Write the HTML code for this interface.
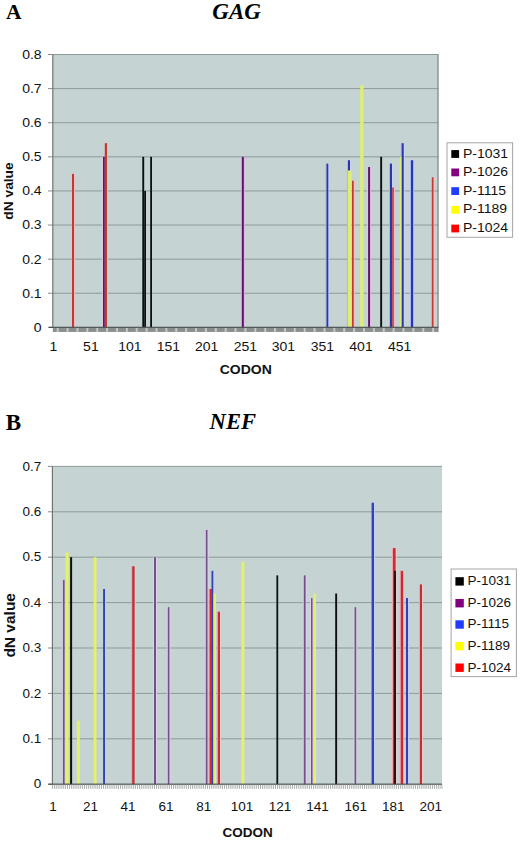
<!DOCTYPE html><html><head><meta charset="utf-8"><title>dN values GAG NEF</title>
<style>html,body{margin:0;padding:0;background:#fff;}svg{display:block;}text{font-family:"Liberation Sans",sans-serif;}.ser{font-family:"Liberation Serif",serif;font-weight:bold;}</style></head><body>
<svg width="520" height="841" viewBox="0 0 520 841">
<rect x="0" y="0" width="520" height="841" fill="#fff"/>
<text class="ser" x="6" y="19.2" font-size="21.5">A</text>
<text class="ser" x="212.3" y="19.4" font-size="23" font-style="italic">GAG</text>
<text class="ser" x="5.8" y="429.6" font-size="23">B</text>
<text class="ser" x="209.6" y="429.3" font-size="22.6" font-style="italic">NEF</text>
<rect x="52.8" y="54.5" width="385.80" height="272.85" fill="#c6d3d3"/>
<rect x="52.8" y="292.74" width="385.80" height="1" fill="#8e9a9a"/>
<rect x="52.8" y="258.64" width="385.80" height="1" fill="#8e9a9a"/>
<rect x="52.8" y="224.53" width="385.80" height="1" fill="#8e9a9a"/>
<rect x="52.8" y="190.43" width="385.80" height="1" fill="#8e9a9a"/>
<rect x="52.8" y="156.32" width="385.80" height="1" fill="#8e9a9a"/>
<rect x="52.8" y="122.21" width="385.80" height="1" fill="#8e9a9a"/>
<rect x="52.8" y="88.11" width="385.80" height="1" fill="#8e9a9a"/>
<rect x="52.8" y="54.00" width="385.80" height="1" fill="#8e9a9a"/>
<rect x="48" y="326.85" width="4.80" height="1" fill="#8a8a8a"/>
<rect x="48" y="292.74" width="4.80" height="1" fill="#8a8a8a"/>
<rect x="48" y="258.64" width="4.80" height="1" fill="#8a8a8a"/>
<rect x="48" y="224.53" width="4.80" height="1" fill="#8a8a8a"/>
<rect x="48" y="190.43" width="4.80" height="1" fill="#8a8a8a"/>
<rect x="48" y="156.32" width="4.80" height="1" fill="#8a8a8a"/>
<rect x="48" y="122.21" width="4.80" height="1" fill="#8a8a8a"/>
<rect x="48" y="88.11" width="4.80" height="1" fill="#8a8a8a"/>
<rect x="48" y="54.00" width="4.80" height="1" fill="#8a8a8a"/>
<rect x="74.00" y="173.87" width="1" height="153.48" fill="#eebcc0"/>
<rect x="102.00" y="156.82" width="1" height="170.53" fill="#d8cce4"/>
<rect x="104.80" y="156.82" width="1" height="170.53" fill="#e2b4e2"/>
<rect x="107.00" y="143.18" width="1" height="184.17" fill="#eebcc0"/>
<rect x="240.80" y="156.82" width="1" height="170.53" fill="#d8cce4"/>
<rect x="243.80" y="156.82" width="1" height="170.53" fill="#e2b4e2"/>
<rect x="325.50" y="163.64" width="1" height="163.71" fill="#aab4fa"/>
<rect x="328.30" y="163.64" width="1" height="163.71" fill="#c8d2f6"/>
<rect x="347.00" y="160.23" width="1" height="167.12" fill="#aab4fa"/>
<rect x="350.00" y="160.23" width="1" height="167.12" fill="#c8d2f6"/>
<rect x="353.70" y="180.69" width="1" height="146.66" fill="#eebcc0"/>
<rect x="367.10" y="167.05" width="1" height="160.30" fill="#d8cce4"/>
<rect x="370.00" y="167.05" width="1" height="160.30" fill="#e2b4e2"/>
<rect x="389.00" y="163.64" width="1" height="163.71" fill="#aab4fa"/>
<rect x="392.00" y="163.64" width="1" height="163.71" fill="#c8d2f6"/>
<rect x="393.80" y="187.51" width="1" height="139.84" fill="#eebcc0"/>
<rect x="400.70" y="143.18" width="1" height="184.17" fill="#aab4fa"/>
<rect x="403.70" y="143.18" width="1" height="184.17" fill="#c8d2f6"/>
<rect x="410.00" y="160.23" width="1" height="167.12" fill="#aab4fa"/>
<rect x="413.20" y="160.23" width="1" height="167.12" fill="#c8d2f6"/>
<rect x="433.50" y="177.28" width="1" height="150.07" fill="#eebcc0"/>
<rect x="72.0" y="173.87" width="2.00" height="153.48" fill="#c43a32"/>
<rect x="103.0" y="156.82" width="1.80" height="170.53" fill="#5e1466"/>
<rect x="104.8" y="143.18" width="2.20" height="184.17" fill="#c43a32"/>
<rect x="142.3" y="156.82" width="1.90" height="170.53" fill="#0c1012"/>
<rect x="144.2" y="190.93" width="1.80" height="136.43" fill="#0c1012"/>
<rect x="150.2" y="156.82" width="1.80" height="170.53" fill="#0c1012"/>
<rect x="241.8" y="156.82" width="2.00" height="170.53" fill="#5e1466"/>
<rect x="326.5" y="163.64" width="1.80" height="163.71" fill="#2a36aa"/>
<rect x="348.0" y="160.23" width="2.00" height="167.12" fill="#2a36aa"/>
<rect x="348.0" y="170.46" width="3.50" height="156.89" fill="#dcee78"/>
<rect x="352.0" y="180.69" width="1.70" height="146.66" fill="#c43a32"/>
<rect x="360.2" y="85.20" width="3.30" height="242.15" fill="#dcee78"/>
<rect x="368.1" y="167.05" width="1.90" height="160.30" fill="#5e1466"/>
<rect x="380.2" y="156.82" width="1.90" height="170.53" fill="#0c1012"/>
<rect x="390.0" y="163.64" width="2.00" height="163.71" fill="#2a36aa"/>
<rect x="392.2" y="187.51" width="1.60" height="139.84" fill="#c43a32"/>
<rect x="399.8" y="156.82" width="2.10" height="170.53" fill="#dcee78"/>
<rect x="401.7" y="143.18" width="2.00" height="184.17" fill="#2a36aa"/>
<rect x="411.0" y="160.23" width="2.20" height="167.12" fill="#2a36aa"/>
<rect x="431.8" y="177.28" width="1.70" height="150.07" fill="#c43a32"/>
<rect x="52.20" y="54.50" width="1.2" height="272.85" fill="#6d7575"/>
<rect x="437.30" y="54.50" width="1.3" height="272.85" fill="#8a9090"/>
<rect x="48.8" y="326.75" width="389.80" height="1.2" fill="#4a4f4f"/>
<rect x="52.8" y="327.95" width="385.80" height="4" fill="#8c8f8f"/>
<rect x="56.70" y="327.95" width="2" height="4" fill="#c4c8c8"/>
<rect x="66.58" y="327.95" width="2" height="4" fill="#c4c8c8"/>
<rect x="76.46" y="327.95" width="2" height="4" fill="#c4c8c8"/>
<rect x="86.34" y="327.95" width="2" height="4" fill="#c4c8c8"/>
<rect x="96.22" y="327.95" width="2" height="4" fill="#c4c8c8"/>
<rect x="106.10" y="327.95" width="2" height="4" fill="#c4c8c8"/>
<rect x="115.98" y="327.95" width="2" height="4" fill="#c4c8c8"/>
<rect x="125.86" y="327.95" width="2" height="4" fill="#c4c8c8"/>
<rect x="135.74" y="327.95" width="2" height="4" fill="#c4c8c8"/>
<rect x="145.62" y="327.95" width="2" height="4" fill="#c4c8c8"/>
<rect x="155.50" y="327.95" width="2" height="4" fill="#c4c8c8"/>
<rect x="165.38" y="327.95" width="2" height="4" fill="#c4c8c8"/>
<rect x="175.26" y="327.95" width="2" height="4" fill="#c4c8c8"/>
<rect x="185.14" y="327.95" width="2" height="4" fill="#c4c8c8"/>
<rect x="195.02" y="327.95" width="2" height="4" fill="#c4c8c8"/>
<rect x="204.90" y="327.95" width="2" height="4" fill="#c4c8c8"/>
<rect x="214.78" y="327.95" width="2" height="4" fill="#c4c8c8"/>
<rect x="224.66" y="327.95" width="2" height="4" fill="#c4c8c8"/>
<rect x="234.54" y="327.95" width="2" height="4" fill="#c4c8c8"/>
<rect x="244.42" y="327.95" width="2" height="4" fill="#c4c8c8"/>
<rect x="254.30" y="327.95" width="2" height="4" fill="#c4c8c8"/>
<rect x="264.18" y="327.95" width="2" height="4" fill="#c4c8c8"/>
<rect x="274.06" y="327.95" width="2" height="4" fill="#c4c8c8"/>
<rect x="283.94" y="327.95" width="2" height="4" fill="#c4c8c8"/>
<rect x="293.82" y="327.95" width="2" height="4" fill="#c4c8c8"/>
<rect x="303.70" y="327.95" width="2" height="4" fill="#c4c8c8"/>
<rect x="313.58" y="327.95" width="2" height="4" fill="#c4c8c8"/>
<rect x="323.46" y="327.95" width="2" height="4" fill="#c4c8c8"/>
<rect x="333.34" y="327.95" width="2" height="4" fill="#c4c8c8"/>
<rect x="343.22" y="327.95" width="2" height="4" fill="#c4c8c8"/>
<rect x="353.10" y="327.95" width="2" height="4" fill="#c4c8c8"/>
<rect x="362.98" y="327.95" width="2" height="4" fill="#c4c8c8"/>
<rect x="372.86" y="327.95" width="2" height="4" fill="#c4c8c8"/>
<rect x="382.74" y="327.95" width="2" height="4" fill="#c4c8c8"/>
<rect x="392.62" y="327.95" width="2" height="4" fill="#c4c8c8"/>
<rect x="402.50" y="327.95" width="2" height="4" fill="#c4c8c8"/>
<rect x="412.38" y="327.95" width="2" height="4" fill="#c4c8c8"/>
<rect x="422.26" y="327.95" width="2" height="4" fill="#c4c8c8"/>
<rect x="432.14" y="327.95" width="2" height="4" fill="#c4c8c8"/>
<text transform="translate(41.6,331.75) scale(1.12,1)" font-size="12.5" text-anchor="end" fill="#111">0</text>
<text transform="translate(41.6,297.64) scale(1.12,1)" font-size="12.5" text-anchor="end" fill="#111">0.1</text>
<text transform="translate(41.6,263.54) scale(1.12,1)" font-size="12.5" text-anchor="end" fill="#111">0.2</text>
<text transform="translate(41.6,229.43) scale(1.12,1)" font-size="12.5" text-anchor="end" fill="#111">0.3</text>
<text transform="translate(41.6,195.33) scale(1.12,1)" font-size="12.5" text-anchor="end" fill="#111">0.4</text>
<text transform="translate(41.6,161.22) scale(1.12,1)" font-size="12.5" text-anchor="end" fill="#111">0.5</text>
<text transform="translate(41.6,127.11) scale(1.12,1)" font-size="12.5" text-anchor="end" fill="#111">0.6</text>
<text transform="translate(41.6,93.01) scale(1.12,1)" font-size="12.5" text-anchor="end" fill="#111">0.7</text>
<text transform="translate(41.6,58.90) scale(1.12,1)" font-size="12.5" text-anchor="end" fill="#111">0.8</text>
<text transform="translate(53.35,351.3) scale(1.12,1)" font-size="12.5" text-anchor="middle" fill="#111">1</text>
<text transform="translate(90.90,351.3) scale(1.12,1)" font-size="12.5" text-anchor="middle" fill="#111">51</text>
<text transform="translate(129.80,351.3) scale(1.12,1)" font-size="12.5" text-anchor="middle" fill="#111">101</text>
<text transform="translate(168.30,351.3) scale(1.12,1)" font-size="12.5" text-anchor="middle" fill="#111">151</text>
<text transform="translate(206.70,351.3) scale(1.12,1)" font-size="12.5" text-anchor="middle" fill="#111">201</text>
<text transform="translate(245.45,351.3) scale(1.12,1)" font-size="12.5" text-anchor="middle" fill="#111">251</text>
<text transform="translate(283.40,351.3) scale(1.12,1)" font-size="12.5" text-anchor="middle" fill="#111">301</text>
<text transform="translate(322.40,351.3) scale(1.12,1)" font-size="12.5" text-anchor="middle" fill="#111">351</text>
<text transform="translate(361.00,351.3) scale(1.12,1)" font-size="12.5" text-anchor="middle" fill="#111">401</text>
<text transform="translate(399.60,351.3) scale(1.12,1)" font-size="12.5" text-anchor="middle" fill="#111">451</text>
<text transform="translate(245.8,373.5) scale(1.12,1)" font-size="12.5" font-weight="bold" text-anchor="middle" fill="#111">CODON</text>
<text transform="translate(13.1,191) rotate(-90) scale(1.1,1)" font-size="12.5" font-weight="bold" text-anchor="middle" fill="#111">dN value</text>
<rect x="447" y="142.8" width="65.6" height="94.5" fill="#fff" stroke="#a6a6a6" stroke-width="1"/>
<rect x="451.30" y="150.10" width="7.8" height="7.8" fill="#000"/>
<text transform="translate(463.00,157.50) scale(1.12,1)" font-size="12.5" fill="#111">P-1031</text>
<rect x="451.30" y="168.50" width="7.8" height="7.8" fill="#800080"/>
<text transform="translate(463.00,175.90) scale(1.12,1)" font-size="12.5" fill="#111">P-1026</text>
<rect x="451.30" y="187.20" width="7.8" height="7.8" fill="#1f3cff"/>
<text transform="translate(463.00,194.60) scale(1.12,1)" font-size="12.5" fill="#111">P-1115</text>
<rect x="451.30" y="205.90" width="7.8" height="7.8" fill="#ffff00"/>
<text transform="translate(463.00,213.30) scale(1.12,1)" font-size="12.5" fill="#111">P-1189</text>
<rect x="451.30" y="224.60" width="7.8" height="7.8" fill="#ff0000"/>
<text transform="translate(463.00,232.00) scale(1.12,1)" font-size="12.5" fill="#111">P-1024</text>
<rect x="52.4" y="466.4" width="389.60" height="317.80" fill="#c6d3d3"/>
<rect x="52.4" y="738.30" width="389.60" height="1" fill="#8e9a9a"/>
<rect x="52.4" y="692.90" width="389.60" height="1" fill="#8e9a9a"/>
<rect x="52.4" y="647.50" width="389.60" height="1" fill="#8e9a9a"/>
<rect x="52.4" y="602.10" width="389.60" height="1" fill="#8e9a9a"/>
<rect x="52.4" y="556.70" width="389.60" height="1" fill="#8e9a9a"/>
<rect x="52.4" y="511.30" width="389.60" height="1" fill="#8e9a9a"/>
<rect x="52.4" y="465.90" width="389.60" height="1" fill="#8e9a9a"/>
<rect x="48" y="783.70" width="4.40" height="1" fill="#8a8a8a"/>
<rect x="48" y="738.30" width="4.40" height="1" fill="#8a8a8a"/>
<rect x="48" y="692.90" width="4.40" height="1" fill="#8a8a8a"/>
<rect x="48" y="647.50" width="4.40" height="1" fill="#8a8a8a"/>
<rect x="48" y="602.10" width="4.40" height="1" fill="#8a8a8a"/>
<rect x="48" y="556.70" width="4.40" height="1" fill="#8a8a8a"/>
<rect x="48" y="511.30" width="4.40" height="1" fill="#8a8a8a"/>
<rect x="48" y="465.90" width="4.40" height="1" fill="#8a8a8a"/>
<rect x="61.90" y="579.90" width="1" height="204.30" fill="#dcd0ec"/>
<rect x="64.60" y="579.90" width="1" height="204.30" fill="#dcd0ec"/>
<rect x="105.00" y="588.98" width="1" height="195.22" fill="#c4ccfc"/>
<rect x="131.20" y="566.28" width="1" height="217.92" fill="#f4a4a8"/>
<rect x="134.60" y="566.28" width="1" height="217.92" fill="#eccccc"/>
<rect x="153.00" y="557.20" width="1" height="227.00" fill="#dcd0ec"/>
<rect x="156.00" y="557.20" width="1" height="227.00" fill="#dcd0ec"/>
<rect x="166.80" y="607.14" width="1" height="177.06" fill="#dcd0ec"/>
<rect x="169.40" y="607.14" width="1" height="177.06" fill="#dcd0ec"/>
<rect x="204.80" y="529.96" width="1" height="254.24" fill="#dcd0ec"/>
<rect x="207.50" y="529.96" width="1" height="254.24" fill="#dcd0ec"/>
<rect x="213.30" y="570.82" width="1" height="213.38" fill="#c4ccfc"/>
<rect x="208.60" y="588.98" width="1" height="195.22" fill="#f4a4a8"/>
<rect x="212.00" y="588.98" width="1" height="195.22" fill="#eccccc"/>
<rect x="216.90" y="611.68" width="1" height="172.52" fill="#f4a4a8"/>
<rect x="220.00" y="611.68" width="1" height="172.52" fill="#eccccc"/>
<rect x="302.80" y="575.36" width="1" height="208.84" fill="#dcd0ec"/>
<rect x="305.60" y="575.36" width="1" height="208.84" fill="#dcd0ec"/>
<rect x="310.00" y="598.06" width="1" height="186.14" fill="#dcd0ec"/>
<rect x="312.50" y="598.06" width="1" height="186.14" fill="#dcd0ec"/>
<rect x="353.60" y="607.14" width="1" height="177.06" fill="#dcd0ec"/>
<rect x="356.20" y="607.14" width="1" height="177.06" fill="#dcd0ec"/>
<rect x="374.00" y="502.72" width="1" height="281.48" fill="#c4ccfc"/>
<rect x="392.00" y="548.12" width="1" height="236.08" fill="#f4a4a8"/>
<rect x="395.60" y="548.12" width="1" height="236.08" fill="#eccccc"/>
<rect x="399.80" y="570.82" width="1" height="213.38" fill="#f4a4a8"/>
<rect x="403.20" y="570.82" width="1" height="213.38" fill="#eccccc"/>
<rect x="408.00" y="598.06" width="1" height="186.14" fill="#c4ccfc"/>
<rect x="419.00" y="584.44" width="1" height="199.76" fill="#f4a4a8"/>
<rect x="422.00" y="584.44" width="1" height="199.76" fill="#eccccc"/>
<rect x="62.9" y="579.90" width="1.70" height="204.30" fill="#74508a"/>
<rect x="65.6" y="552.66" width="3.00" height="231.54" fill="#e4f268"/>
<rect x="70.1" y="557.20" width="2.00" height="227.00" fill="#0c1012"/>
<rect x="76.9" y="720.64" width="2.90" height="63.56" fill="#e4f268"/>
<rect x="93.7" y="557.20" width="2.80" height="227.00" fill="#e4f268"/>
<rect x="103.1" y="588.98" width="1.90" height="195.22" fill="#3242b4"/>
<rect x="132.2" y="566.28" width="2.40" height="217.92" fill="#c82c34"/>
<rect x="154.0" y="557.20" width="2.00" height="227.00" fill="#74508a"/>
<rect x="167.8" y="607.14" width="1.60" height="177.06" fill="#74508a"/>
<rect x="205.8" y="529.96" width="1.70" height="254.24" fill="#74508a"/>
<rect x="211.5" y="570.82" width="1.80" height="213.38" fill="#3242b4"/>
<rect x="209.6" y="588.98" width="2.40" height="195.22" fill="#c82c34"/>
<rect x="213.6" y="593.52" width="2.40" height="190.68" fill="#e4f268"/>
<rect x="217.9" y="611.68" width="2.10" height="172.52" fill="#c82c34"/>
<rect x="241.5" y="561.74" width="2.90" height="222.46" fill="#e4f268"/>
<rect x="276.4" y="575.36" width="1.80" height="208.84" fill="#0c1012"/>
<rect x="303.8" y="575.36" width="1.80" height="208.84" fill="#74508a"/>
<rect x="311.0" y="598.06" width="1.50" height="186.14" fill="#74508a"/>
<rect x="313.6" y="593.52" width="2.40" height="190.68" fill="#e4f268"/>
<rect x="335.2" y="593.52" width="1.90" height="190.68" fill="#0c1012"/>
<rect x="354.6" y="607.14" width="1.60" height="177.06" fill="#74508a"/>
<rect x="371.6" y="502.72" width="2.40" height="281.48" fill="#3242b4"/>
<rect x="393.0" y="548.12" width="2.60" height="236.08" fill="#c82c34"/>
<rect x="394.0" y="570.82" width="2.00" height="213.38" fill="#3a0a0c"/>
<rect x="400.8" y="570.82" width="2.40" height="213.38" fill="#c82c34"/>
<rect x="406.0" y="598.06" width="2.00" height="186.14" fill="#3242b4"/>
<rect x="420.0" y="584.44" width="2.00" height="199.76" fill="#c82c34"/>
<rect x="51.80" y="466.40" width="1.2" height="317.80" fill="#6d7575"/>
<rect x="48.4" y="783.60" width="393.60" height="1.2" fill="#4a4f4f"/>
<rect x="51.95" y="784.80" width="0.9" height="4" fill="#a4a6a6"/>
<rect x="53.84" y="784.80" width="0.9" height="4" fill="#a4a6a6"/>
<rect x="55.73" y="784.80" width="0.9" height="4" fill="#a4a6a6"/>
<rect x="57.62" y="784.80" width="0.9" height="4" fill="#a4a6a6"/>
<rect x="59.52" y="784.80" width="0.9" height="4" fill="#a4a6a6"/>
<rect x="61.41" y="784.80" width="0.9" height="4" fill="#a4a6a6"/>
<rect x="63.30" y="784.80" width="0.9" height="4" fill="#a4a6a6"/>
<rect x="65.19" y="784.80" width="0.9" height="4" fill="#a4a6a6"/>
<rect x="67.08" y="784.80" width="0.9" height="4" fill="#a4a6a6"/>
<rect x="68.97" y="784.80" width="0.9" height="4" fill="#a4a6a6"/>
<rect x="70.86" y="784.80" width="0.9" height="4" fill="#a4a6a6"/>
<rect x="72.75" y="784.80" width="0.9" height="4" fill="#a4a6a6"/>
<rect x="74.65" y="784.80" width="0.9" height="4" fill="#a4a6a6"/>
<rect x="76.54" y="784.80" width="0.9" height="4" fill="#a4a6a6"/>
<rect x="78.43" y="784.80" width="0.9" height="4" fill="#a4a6a6"/>
<rect x="80.32" y="784.80" width="0.9" height="4" fill="#a4a6a6"/>
<rect x="82.21" y="784.80" width="0.9" height="4" fill="#a4a6a6"/>
<rect x="84.10" y="784.80" width="0.9" height="4" fill="#a4a6a6"/>
<rect x="85.99" y="784.80" width="0.9" height="4" fill="#a4a6a6"/>
<rect x="87.88" y="784.80" width="0.9" height="4" fill="#a4a6a6"/>
<rect x="89.78" y="784.80" width="0.9" height="4" fill="#a4a6a6"/>
<rect x="91.67" y="784.80" width="0.9" height="4" fill="#a4a6a6"/>
<rect x="93.56" y="784.80" width="0.9" height="4" fill="#a4a6a6"/>
<rect x="95.45" y="784.80" width="0.9" height="4" fill="#a4a6a6"/>
<rect x="97.34" y="784.80" width="0.9" height="4" fill="#a4a6a6"/>
<rect x="99.23" y="784.80" width="0.9" height="4" fill="#a4a6a6"/>
<rect x="101.12" y="784.80" width="0.9" height="4" fill="#a4a6a6"/>
<rect x="103.01" y="784.80" width="0.9" height="4" fill="#a4a6a6"/>
<rect x="104.91" y="784.80" width="0.9" height="4" fill="#a4a6a6"/>
<rect x="106.80" y="784.80" width="0.9" height="4" fill="#a4a6a6"/>
<rect x="108.69" y="784.80" width="0.9" height="4" fill="#a4a6a6"/>
<rect x="110.58" y="784.80" width="0.9" height="4" fill="#a4a6a6"/>
<rect x="112.47" y="784.80" width="0.9" height="4" fill="#a4a6a6"/>
<rect x="114.36" y="784.80" width="0.9" height="4" fill="#a4a6a6"/>
<rect x="116.25" y="784.80" width="0.9" height="4" fill="#a4a6a6"/>
<rect x="118.14" y="784.80" width="0.9" height="4" fill="#a4a6a6"/>
<rect x="120.04" y="784.80" width="0.9" height="4" fill="#a4a6a6"/>
<rect x="121.93" y="784.80" width="0.9" height="4" fill="#a4a6a6"/>
<rect x="123.82" y="784.80" width="0.9" height="4" fill="#a4a6a6"/>
<rect x="125.71" y="784.80" width="0.9" height="4" fill="#a4a6a6"/>
<rect x="127.60" y="784.80" width="0.9" height="4" fill="#a4a6a6"/>
<rect x="129.49" y="784.80" width="0.9" height="4" fill="#a4a6a6"/>
<rect x="131.38" y="784.80" width="0.9" height="4" fill="#a4a6a6"/>
<rect x="133.27" y="784.80" width="0.9" height="4" fill="#a4a6a6"/>
<rect x="135.17" y="784.80" width="0.9" height="4" fill="#a4a6a6"/>
<rect x="137.06" y="784.80" width="0.9" height="4" fill="#a4a6a6"/>
<rect x="138.95" y="784.80" width="0.9" height="4" fill="#a4a6a6"/>
<rect x="140.84" y="784.80" width="0.9" height="4" fill="#a4a6a6"/>
<rect x="142.73" y="784.80" width="0.9" height="4" fill="#a4a6a6"/>
<rect x="144.62" y="784.80" width="0.9" height="4" fill="#a4a6a6"/>
<rect x="146.51" y="784.80" width="0.9" height="4" fill="#a4a6a6"/>
<rect x="148.40" y="784.80" width="0.9" height="4" fill="#a4a6a6"/>
<rect x="150.30" y="784.80" width="0.9" height="4" fill="#a4a6a6"/>
<rect x="152.19" y="784.80" width="0.9" height="4" fill="#a4a6a6"/>
<rect x="154.08" y="784.80" width="0.9" height="4" fill="#a4a6a6"/>
<rect x="155.97" y="784.80" width="0.9" height="4" fill="#a4a6a6"/>
<rect x="157.86" y="784.80" width="0.9" height="4" fill="#a4a6a6"/>
<rect x="159.75" y="784.80" width="0.9" height="4" fill="#a4a6a6"/>
<rect x="161.64" y="784.80" width="0.9" height="4" fill="#a4a6a6"/>
<rect x="163.53" y="784.80" width="0.9" height="4" fill="#a4a6a6"/>
<rect x="165.43" y="784.80" width="0.9" height="4" fill="#a4a6a6"/>
<rect x="167.32" y="784.80" width="0.9" height="4" fill="#a4a6a6"/>
<rect x="169.21" y="784.80" width="0.9" height="4" fill="#a4a6a6"/>
<rect x="171.10" y="784.80" width="0.9" height="4" fill="#a4a6a6"/>
<rect x="172.99" y="784.80" width="0.9" height="4" fill="#a4a6a6"/>
<rect x="174.88" y="784.80" width="0.9" height="4" fill="#a4a6a6"/>
<rect x="176.77" y="784.80" width="0.9" height="4" fill="#a4a6a6"/>
<rect x="178.66" y="784.80" width="0.9" height="4" fill="#a4a6a6"/>
<rect x="180.56" y="784.80" width="0.9" height="4" fill="#a4a6a6"/>
<rect x="182.45" y="784.80" width="0.9" height="4" fill="#a4a6a6"/>
<rect x="184.34" y="784.80" width="0.9" height="4" fill="#a4a6a6"/>
<rect x="186.23" y="784.80" width="0.9" height="4" fill="#a4a6a6"/>
<rect x="188.12" y="784.80" width="0.9" height="4" fill="#a4a6a6"/>
<rect x="190.01" y="784.80" width="0.9" height="4" fill="#a4a6a6"/>
<rect x="191.90" y="784.80" width="0.9" height="4" fill="#a4a6a6"/>
<rect x="193.79" y="784.80" width="0.9" height="4" fill="#a4a6a6"/>
<rect x="195.69" y="784.80" width="0.9" height="4" fill="#a4a6a6"/>
<rect x="197.58" y="784.80" width="0.9" height="4" fill="#a4a6a6"/>
<rect x="199.47" y="784.80" width="0.9" height="4" fill="#a4a6a6"/>
<rect x="201.36" y="784.80" width="0.9" height="4" fill="#a4a6a6"/>
<rect x="203.25" y="784.80" width="0.9" height="4" fill="#a4a6a6"/>
<rect x="205.14" y="784.80" width="0.9" height="4" fill="#a4a6a6"/>
<rect x="207.03" y="784.80" width="0.9" height="4" fill="#a4a6a6"/>
<rect x="208.92" y="784.80" width="0.9" height="4" fill="#a4a6a6"/>
<rect x="210.82" y="784.80" width="0.9" height="4" fill="#a4a6a6"/>
<rect x="212.71" y="784.80" width="0.9" height="4" fill="#a4a6a6"/>
<rect x="214.60" y="784.80" width="0.9" height="4" fill="#a4a6a6"/>
<rect x="216.49" y="784.80" width="0.9" height="4" fill="#a4a6a6"/>
<rect x="218.38" y="784.80" width="0.9" height="4" fill="#a4a6a6"/>
<rect x="220.27" y="784.80" width="0.9" height="4" fill="#a4a6a6"/>
<rect x="222.16" y="784.80" width="0.9" height="4" fill="#a4a6a6"/>
<rect x="224.05" y="784.80" width="0.9" height="4" fill="#a4a6a6"/>
<rect x="225.95" y="784.80" width="0.9" height="4" fill="#a4a6a6"/>
<rect x="227.84" y="784.80" width="0.9" height="4" fill="#a4a6a6"/>
<rect x="229.73" y="784.80" width="0.9" height="4" fill="#a4a6a6"/>
<rect x="231.62" y="784.80" width="0.9" height="4" fill="#a4a6a6"/>
<rect x="233.51" y="784.80" width="0.9" height="4" fill="#a4a6a6"/>
<rect x="235.40" y="784.80" width="0.9" height="4" fill="#a4a6a6"/>
<rect x="237.29" y="784.80" width="0.9" height="4" fill="#a4a6a6"/>
<rect x="239.18" y="784.80" width="0.9" height="4" fill="#a4a6a6"/>
<rect x="241.08" y="784.80" width="0.9" height="4" fill="#a4a6a6"/>
<rect x="242.97" y="784.80" width="0.9" height="4" fill="#a4a6a6"/>
<rect x="244.86" y="784.80" width="0.9" height="4" fill="#a4a6a6"/>
<rect x="246.75" y="784.80" width="0.9" height="4" fill="#a4a6a6"/>
<rect x="248.64" y="784.80" width="0.9" height="4" fill="#a4a6a6"/>
<rect x="250.53" y="784.80" width="0.9" height="4" fill="#a4a6a6"/>
<rect x="252.42" y="784.80" width="0.9" height="4" fill="#a4a6a6"/>
<rect x="254.32" y="784.80" width="0.9" height="4" fill="#a4a6a6"/>
<rect x="256.21" y="784.80" width="0.9" height="4" fill="#a4a6a6"/>
<rect x="258.10" y="784.80" width="0.9" height="4" fill="#a4a6a6"/>
<rect x="259.99" y="784.80" width="0.9" height="4" fill="#a4a6a6"/>
<rect x="261.88" y="784.80" width="0.9" height="4" fill="#a4a6a6"/>
<rect x="263.77" y="784.80" width="0.9" height="4" fill="#a4a6a6"/>
<rect x="265.66" y="784.80" width="0.9" height="4" fill="#a4a6a6"/>
<rect x="267.55" y="784.80" width="0.9" height="4" fill="#a4a6a6"/>
<rect x="269.45" y="784.80" width="0.9" height="4" fill="#a4a6a6"/>
<rect x="271.34" y="784.80" width="0.9" height="4" fill="#a4a6a6"/>
<rect x="273.23" y="784.80" width="0.9" height="4" fill="#a4a6a6"/>
<rect x="275.12" y="784.80" width="0.9" height="4" fill="#a4a6a6"/>
<rect x="277.01" y="784.80" width="0.9" height="4" fill="#a4a6a6"/>
<rect x="278.90" y="784.80" width="0.9" height="4" fill="#a4a6a6"/>
<rect x="280.79" y="784.80" width="0.9" height="4" fill="#a4a6a6"/>
<rect x="282.68" y="784.80" width="0.9" height="4" fill="#a4a6a6"/>
<rect x="284.58" y="784.80" width="0.9" height="4" fill="#a4a6a6"/>
<rect x="286.47" y="784.80" width="0.9" height="4" fill="#a4a6a6"/>
<rect x="288.36" y="784.80" width="0.9" height="4" fill="#a4a6a6"/>
<rect x="290.25" y="784.80" width="0.9" height="4" fill="#a4a6a6"/>
<rect x="292.14" y="784.80" width="0.9" height="4" fill="#a4a6a6"/>
<rect x="294.03" y="784.80" width="0.9" height="4" fill="#a4a6a6"/>
<rect x="295.92" y="784.80" width="0.9" height="4" fill="#a4a6a6"/>
<rect x="297.81" y="784.80" width="0.9" height="4" fill="#a4a6a6"/>
<rect x="299.71" y="784.80" width="0.9" height="4" fill="#a4a6a6"/>
<rect x="301.60" y="784.80" width="0.9" height="4" fill="#a4a6a6"/>
<rect x="303.49" y="784.80" width="0.9" height="4" fill="#a4a6a6"/>
<rect x="305.38" y="784.80" width="0.9" height="4" fill="#a4a6a6"/>
<rect x="307.27" y="784.80" width="0.9" height="4" fill="#a4a6a6"/>
<rect x="309.16" y="784.80" width="0.9" height="4" fill="#a4a6a6"/>
<rect x="311.05" y="784.80" width="0.9" height="4" fill="#a4a6a6"/>
<rect x="312.94" y="784.80" width="0.9" height="4" fill="#a4a6a6"/>
<rect x="314.84" y="784.80" width="0.9" height="4" fill="#a4a6a6"/>
<rect x="316.73" y="784.80" width="0.9" height="4" fill="#a4a6a6"/>
<rect x="318.62" y="784.80" width="0.9" height="4" fill="#a4a6a6"/>
<rect x="320.51" y="784.80" width="0.9" height="4" fill="#a4a6a6"/>
<rect x="322.40" y="784.80" width="0.9" height="4" fill="#a4a6a6"/>
<rect x="324.29" y="784.80" width="0.9" height="4" fill="#a4a6a6"/>
<rect x="326.18" y="784.80" width="0.9" height="4" fill="#a4a6a6"/>
<rect x="328.07" y="784.80" width="0.9" height="4" fill="#a4a6a6"/>
<rect x="329.97" y="784.80" width="0.9" height="4" fill="#a4a6a6"/>
<rect x="331.86" y="784.80" width="0.9" height="4" fill="#a4a6a6"/>
<rect x="333.75" y="784.80" width="0.9" height="4" fill="#a4a6a6"/>
<rect x="335.64" y="784.80" width="0.9" height="4" fill="#a4a6a6"/>
<rect x="337.53" y="784.80" width="0.9" height="4" fill="#a4a6a6"/>
<rect x="339.42" y="784.80" width="0.9" height="4" fill="#a4a6a6"/>
<rect x="341.31" y="784.80" width="0.9" height="4" fill="#a4a6a6"/>
<rect x="343.20" y="784.80" width="0.9" height="4" fill="#a4a6a6"/>
<rect x="345.10" y="784.80" width="0.9" height="4" fill="#a4a6a6"/>
<rect x="346.99" y="784.80" width="0.9" height="4" fill="#a4a6a6"/>
<rect x="348.88" y="784.80" width="0.9" height="4" fill="#a4a6a6"/>
<rect x="350.77" y="784.80" width="0.9" height="4" fill="#a4a6a6"/>
<rect x="352.66" y="784.80" width="0.9" height="4" fill="#a4a6a6"/>
<rect x="354.55" y="784.80" width="0.9" height="4" fill="#a4a6a6"/>
<rect x="356.44" y="784.80" width="0.9" height="4" fill="#a4a6a6"/>
<rect x="358.33" y="784.80" width="0.9" height="4" fill="#a4a6a6"/>
<rect x="360.23" y="784.80" width="0.9" height="4" fill="#a4a6a6"/>
<rect x="362.12" y="784.80" width="0.9" height="4" fill="#a4a6a6"/>
<rect x="364.01" y="784.80" width="0.9" height="4" fill="#a4a6a6"/>
<rect x="365.90" y="784.80" width="0.9" height="4" fill="#a4a6a6"/>
<rect x="367.79" y="784.80" width="0.9" height="4" fill="#a4a6a6"/>
<rect x="369.68" y="784.80" width="0.9" height="4" fill="#a4a6a6"/>
<rect x="371.57" y="784.80" width="0.9" height="4" fill="#a4a6a6"/>
<rect x="373.46" y="784.80" width="0.9" height="4" fill="#a4a6a6"/>
<rect x="375.36" y="784.80" width="0.9" height="4" fill="#a4a6a6"/>
<rect x="377.25" y="784.80" width="0.9" height="4" fill="#a4a6a6"/>
<rect x="379.14" y="784.80" width="0.9" height="4" fill="#a4a6a6"/>
<rect x="381.03" y="784.80" width="0.9" height="4" fill="#a4a6a6"/>
<rect x="382.92" y="784.80" width="0.9" height="4" fill="#a4a6a6"/>
<rect x="384.81" y="784.80" width="0.9" height="4" fill="#a4a6a6"/>
<rect x="386.70" y="784.80" width="0.9" height="4" fill="#a4a6a6"/>
<rect x="388.59" y="784.80" width="0.9" height="4" fill="#a4a6a6"/>
<rect x="390.49" y="784.80" width="0.9" height="4" fill="#a4a6a6"/>
<rect x="392.38" y="784.80" width="0.9" height="4" fill="#a4a6a6"/>
<rect x="394.27" y="784.80" width="0.9" height="4" fill="#a4a6a6"/>
<rect x="396.16" y="784.80" width="0.9" height="4" fill="#a4a6a6"/>
<rect x="398.05" y="784.80" width="0.9" height="4" fill="#a4a6a6"/>
<rect x="399.94" y="784.80" width="0.9" height="4" fill="#a4a6a6"/>
<rect x="401.83" y="784.80" width="0.9" height="4" fill="#a4a6a6"/>
<rect x="403.72" y="784.80" width="0.9" height="4" fill="#a4a6a6"/>
<rect x="405.62" y="784.80" width="0.9" height="4" fill="#a4a6a6"/>
<rect x="407.51" y="784.80" width="0.9" height="4" fill="#a4a6a6"/>
<rect x="409.40" y="784.80" width="0.9" height="4" fill="#a4a6a6"/>
<rect x="411.29" y="784.80" width="0.9" height="4" fill="#a4a6a6"/>
<rect x="413.18" y="784.80" width="0.9" height="4" fill="#a4a6a6"/>
<rect x="415.07" y="784.80" width="0.9" height="4" fill="#a4a6a6"/>
<rect x="416.96" y="784.80" width="0.9" height="4" fill="#a4a6a6"/>
<rect x="418.85" y="784.80" width="0.9" height="4" fill="#a4a6a6"/>
<rect x="420.75" y="784.80" width="0.9" height="4" fill="#a4a6a6"/>
<rect x="422.64" y="784.80" width="0.9" height="4" fill="#a4a6a6"/>
<rect x="424.53" y="784.80" width="0.9" height="4" fill="#a4a6a6"/>
<rect x="426.42" y="784.80" width="0.9" height="4" fill="#a4a6a6"/>
<rect x="428.31" y="784.80" width="0.9" height="4" fill="#a4a6a6"/>
<rect x="430.20" y="784.80" width="0.9" height="4" fill="#a4a6a6"/>
<rect x="432.09" y="784.80" width="0.9" height="4" fill="#a4a6a6"/>
<rect x="433.98" y="784.80" width="0.9" height="4" fill="#a4a6a6"/>
<rect x="435.88" y="784.80" width="0.9" height="4" fill="#a4a6a6"/>
<rect x="437.77" y="784.80" width="0.9" height="4" fill="#a4a6a6"/>
<rect x="439.66" y="784.80" width="0.9" height="4" fill="#a4a6a6"/>
<rect x="441.55" y="784.80" width="0.9" height="4" fill="#a4a6a6"/>
<text transform="translate(41.2,788.30) scale(1.0,1)" font-size="13.5" text-anchor="end" fill="#111">0</text>
<text transform="translate(41.2,742.90) scale(1.0,1)" font-size="13.5" text-anchor="end" fill="#111">0.1</text>
<text transform="translate(41.2,697.50) scale(1.0,1)" font-size="13.5" text-anchor="end" fill="#111">0.2</text>
<text transform="translate(41.2,652.10) scale(1.0,1)" font-size="13.5" text-anchor="end" fill="#111">0.3</text>
<text transform="translate(41.2,606.70) scale(1.0,1)" font-size="13.5" text-anchor="end" fill="#111">0.4</text>
<text transform="translate(41.2,561.30) scale(1.0,1)" font-size="13.5" text-anchor="end" fill="#111">0.5</text>
<text transform="translate(41.2,515.90) scale(1.0,1)" font-size="13.5" text-anchor="end" fill="#111">0.6</text>
<text transform="translate(41.2,470.50) scale(1.0,1)" font-size="13.5" text-anchor="end" fill="#111">0.7</text>
<text transform="translate(53.00,811.2) scale(1.0,1)" font-size="13.5" text-anchor="middle" fill="#111">1</text>
<text transform="translate(90.50,811.2) scale(1.0,1)" font-size="13.5" text-anchor="middle" fill="#111">21</text>
<text transform="translate(128.00,811.2) scale(1.0,1)" font-size="13.5" text-anchor="middle" fill="#111">41</text>
<text transform="translate(166.00,811.2) scale(1.0,1)" font-size="13.5" text-anchor="middle" fill="#111">61</text>
<text transform="translate(203.70,811.2) scale(1.0,1)" font-size="13.5" text-anchor="middle" fill="#111">81</text>
<text transform="translate(242.00,811.2) scale(1.0,1)" font-size="13.5" text-anchor="middle" fill="#111">101</text>
<text transform="translate(279.90,811.2) scale(1.0,1)" font-size="13.5" text-anchor="middle" fill="#111">121</text>
<text transform="translate(317.60,811.2) scale(1.0,1)" font-size="13.5" text-anchor="middle" fill="#111">141</text>
<text transform="translate(355.70,811.2) scale(1.0,1)" font-size="13.5" text-anchor="middle" fill="#111">161</text>
<text transform="translate(393.30,811.2) scale(1.0,1)" font-size="13.5" text-anchor="middle" fill="#111">181</text>
<text transform="translate(430.80,811.2) scale(1.0,1)" font-size="13.5" text-anchor="middle" fill="#111">201</text>
<text transform="translate(247.7,837.1) scale(1.0,1)" font-size="13.5" font-weight="bold" text-anchor="middle" fill="#111">CODON</text>
<text transform="translate(15.2,625.3) rotate(-90) scale(1.07,1)" font-size="14.5" font-weight="bold" text-anchor="middle" fill="#111">dN value</text>
<rect x="451.1" y="569" width="65.3" height="107.6" fill="#fff" stroke="#a6a6a6" stroke-width="1"/>
<rect x="455.40" y="577.20" width="8.4" height="8.4" fill="#000"/>
<text transform="translate(467.60,585.26) scale(1.0,1)" font-size="13.5" fill="#111">P-1031</text>
<rect x="455.40" y="599.00" width="8.4" height="8.4" fill="#800080"/>
<text transform="translate(467.60,607.06) scale(1.0,1)" font-size="13.5" fill="#111">P-1026</text>
<rect x="455.40" y="620.30" width="8.4" height="8.4" fill="#1f3cff"/>
<text transform="translate(467.60,628.36) scale(1.0,1)" font-size="13.5" fill="#111">P-1115</text>
<rect x="455.40" y="641.90" width="8.4" height="8.4" fill="#ffff00"/>
<text transform="translate(467.60,649.96) scale(1.0,1)" font-size="13.5" fill="#111">P-1189</text>
<rect x="455.40" y="663.50" width="8.4" height="8.4" fill="#ff0000"/>
<text transform="translate(467.60,671.56) scale(1.0,1)" font-size="13.5" fill="#111">P-1024</text>
</svg></body></html>
